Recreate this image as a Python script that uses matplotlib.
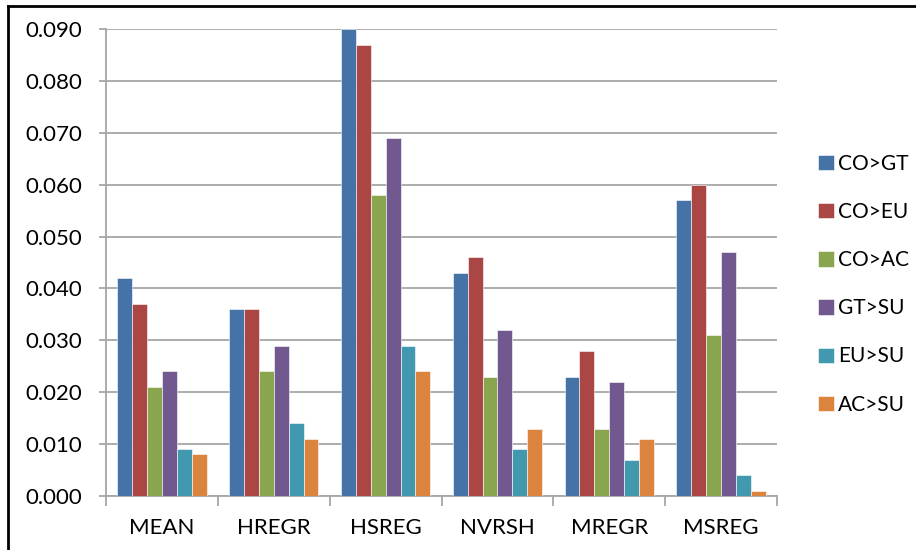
import numpy as np
import matplotlib.pyplot as plt
from matplotlib.lines import Line2D

# --- Data ---
categories = ["MEAN", "HREGR", "HSREG", "NVRSH", "MREGR", "MSREG"]
series_names = ["CO>GT", "CO>EU", "CO>AC", "GT>SU", "EU>SU", "AC>SU"]
co_gt = [0.042, 0.036, 0.090, 0.043, 0.023, 0.057]
co_eu = [0.037, 0.036, 0.087, 0.046, 0.028, 0.060]
co_ac = [0.021, 0.024, 0.058, 0.023, 0.013, 0.031]
gt_su = [0.024, 0.029, 0.069, 0.032, 0.022, 0.047]
eu_su = [0.009, 0.014, 0.029, 0.009, 0.007, 0.004]
ac_su = [0.008, 0.011, 0.024, 0.013, 0.011, 0.001]
series = [co_gt, co_eu, co_ac, gt_su, eu_su, ac_su]
colors = ["#4572A7", "#AA4643", "#89A54E", "#71588F", "#4198AF", "#DB843D"]

plt.rcParams['font.family'] = ['Lato', 'DejaVu Sans']
grid_col = "#a6a6a6"

fig = plt.figure(figsize=(9.16, 5.5), dpi=100)
ax = fig.add_axes([0.1157, 0.0982, 0.7326, 0.8491])

x = np.arange(len(categories))
n = len(series)
w = 1 / (n + 1.5)
for i, (vals, name, c) in enumerate(zip(series, series_names, colors)):
    offs = (i - (n - 1) / 2) * w
    ax.bar(x + offs, vals, width=w, color=c, edgecolor="white", linewidth=0.4, label=name, zorder=3)

ax.set_xlim(-0.5, len(categories) - 0.5)
ax.set_ylim(0, 0.09)
ax.set_yticks(np.arange(0, 0.0901, 0.01))
ax.set_yticklabels([f"{v:.3f}" for v in np.arange(0, 0.0901, 0.01)])
ax.yaxis.grid(True, color=grid_col, linewidth=1.3, zorder=0)

# category labels centered, ticks on boundaries
ax.set_xticks(x)
ax.set_xticklabels(categories)
ax.set_xticks(np.arange(-0.5, len(categories)), minor=True)
ax.tick_params(axis="x", which="major", length=0, pad=16, labelsize=16)
ax.tick_params(axis="x", which="minor", length=7, width=1.3, color=grid_col, direction="out")
ax.tick_params(axis="y", length=5, width=1.3, color=grid_col, pad=12, labelsize=16)

for s in ["top", "right"]:
    ax.spines[s].set_visible(False)
for s in ["left", "bottom"]:
    ax.spines[s].set_color(grid_col)
    ax.spines[s].set_linewidth(1.3)

fig.legend(loc="upper left", bbox_to_anchor=(0.893, 0.72), frameon=False,
           fontsize=15, handlelength=0.75, handleheight=0.75, handletextpad=0.2,
           labelspacing=1.35, borderpad=0, borderaxespad=0)

# outer frame lines (top and left only)
fig.add_artist(Line2D([0.009, 1.0], [0.989, 0.989], color="black", linewidth=2, transform=fig.transFigure))
fig.add_artist(Line2D([0.009, 0.009], [0.0, 0.989], color="black", linewidth=2, transform=fig.transFigure))

fig.savefig("out.png", dpi=100)
